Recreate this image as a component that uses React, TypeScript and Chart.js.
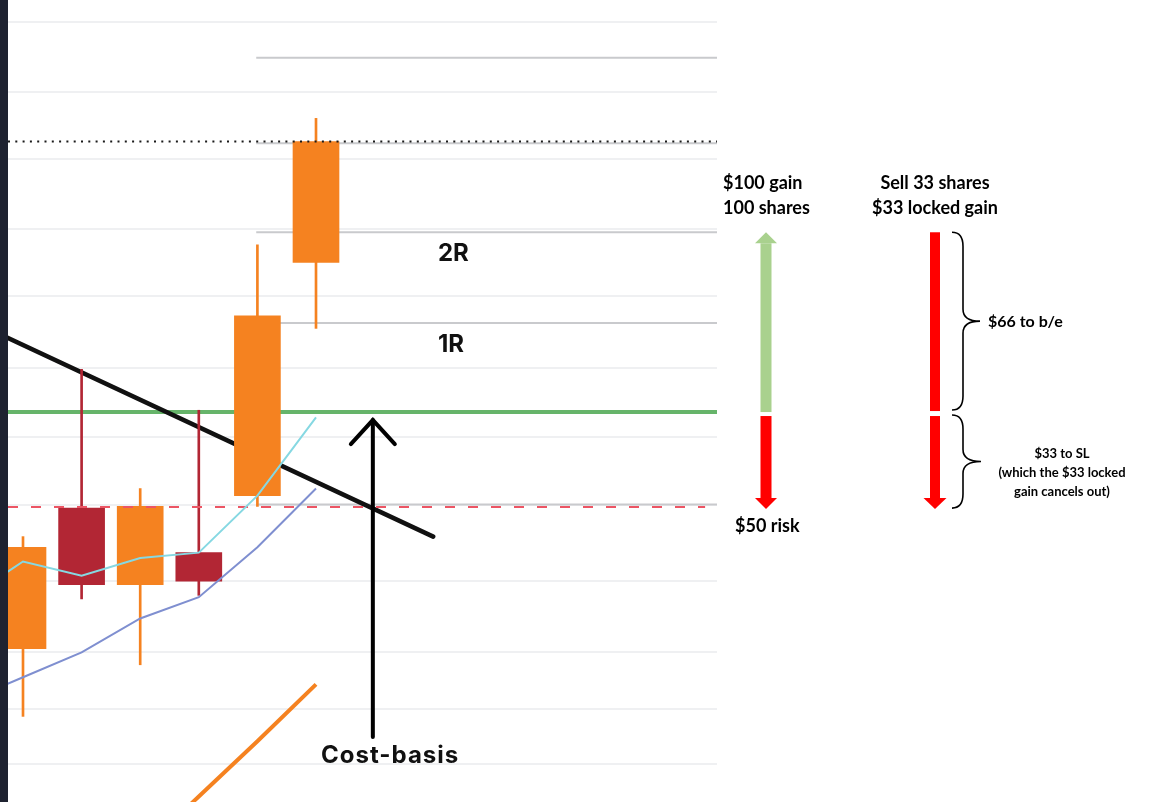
import { useEffect, useRef } from 'react';
import { Chart, registerables } from 'chart.js';

Chart.register(...registerables);

// ---- data ----
const candleIndex = [0, 1, 2, 3, 4, 5];
const opens = [8.67, 9.46, 9.03, 9.21, 9.53, 10.84];
const closes = [9.24, 9.03, 9.47, 9.05, 10.54, 11.52];
const highs = [9.3, 10.24, 9.57, 10.01, 10.94, 11.65];
const lows = [8.29, 8.95, 8.58, 8.97, 9.47, 10.47];

const maIndex = [-1, 0, 1, 2, 3, 4, 5];
const fastMA = [8.94, 9.16, 9.08, 9.18, 9.21, 9.53, 9.97];
const slowMA = [8.37, 8.51, 8.65, 8.84, 8.96, 9.24, 9.57];
const longMAIndex = [2, 3, 4, 5];
const longMA = [7.53, 7.84, 8.15, 8.47];

const trendIndex = [-1, 7];
const trendValues = [10.53, 9.3];

const gridValues = [12.19, 11.8, 11.42, 11.03, 10.65, 10.25, 9.86, 9.48, 9.05, 8.65, 8.33, 8.02];
const levelValues = [11.99, 11.51, 11.01, 10.5, 9.48];
const levelStartIndex = 3.98;
const rLabelTexts = ['2R', '1R'];
const rLabelValues = [11.01, 10.5];

const entryPrice = 10.0;
const stopPrice = 9.466;
const highMark = 11.52;
const stopLineEndIndex = 11.64;
const costArrowIndex = 5.97;

const xMin = -0.256;
const xMax = 11.843;
const yMin = 7.809;
const yMax = 12.315;

const ORANGE = '#f58220';
const RED = '#b22634';

const candleColors = candleIndex.map((_, i) => (closes[i] >= opens[i] ? ORANGE : RED));

function hLine(value: number, from: number, to: number) {
  return [
    { x: from, y: value },
    { x: to, y: value },
  ];
}

function drawVArrow(ctx: CanvasRenderingContext2D, cx: number, yFrom: number, yTip: number, shaftW: number, headW: number, headH: number, color: string) {
  ctx.save();
  ctx.fillStyle = color;
  const dir = yTip < yFrom ? -1 : 1;
  const headBase = yTip - dir * headH;
  ctx.fillRect(cx - shaftW / 2, Math.min(yFrom, headBase), shaftW, Math.abs(headBase - yFrom));
  ctx.beginPath();
  ctx.moveTo(cx - headW / 2, headBase);
  ctx.lineTo(cx + headW / 2, headBase);
  ctx.lineTo(cx, yTip);
  ctx.closePath();
  ctx.fill();
  ctx.restore();
}

function drawBrace(ctx: CanvasRenderingContext2D, x: number, y1: number, y2: number, tipX: number) {
  const mid = (y1 + y2) / 2;
  const vx = x + 11;
  ctx.save();
  ctx.strokeStyle = '#000';
  ctx.lineWidth = 1.6;
  ctx.beginPath();
  ctx.moveTo(x, y1);
  ctx.quadraticCurveTo(vx, y1, vx, y1 + 14);
  ctx.lineTo(vx, mid - 12);
  ctx.quadraticCurveTo(vx, mid, tipX, mid);
  ctx.quadraticCurveTo(vx, mid, vx, mid + 12);
  ctx.lineTo(vx, y2 - 14);
  ctx.quadraticCurveTo(vx, y2, x, y2);
  ctx.stroke();
  ctx.restore();
}

const annotationPlugin = {
  id: 'annotations',
  beforeDraw(chart: any) {
    const ctx = chart.ctx as CanvasRenderingContext2D;
    ctx.save();
    ctx.fillStyle = '#ffffff';
    ctx.fillRect(0, 0, chart.width, chart.height);
    ctx.restore();
  },
  afterDraw(chart: any) {
    const ctx = chart.ctx as CanvasRenderingContext2D;
    const xs = chart.scales.x;
    const ys = chart.scales.y;
    const area = chart.chartArea;

    // left dark bar
    ctx.save();
    ctx.fillStyle = '#1e2230';
    ctx.fillRect(0, 0, area.left, area.bottom);
    ctx.restore();

    // R labels
    ctx.save();
    ctx.fillStyle = '#111';
    ctx.font = 'bold 24px Inter, "Liberation Sans", sans-serif';
    ctx.textAlign = 'left';
    ctx.textBaseline = 'alphabetic';
    rLabelTexts.forEach((t, i) => {
      ctx.fillText(t, 438, ys.getPixelForValue(rLabelValues[i]) + 29);
    });
    ctx.restore();

    // cost-basis arrow
    const ax = xs.getPixelForValue(costArrowIndex);
    const aTop = ys.getPixelForValue(entryPrice) + 8;
    ctx.save();
    ctx.strokeStyle = '#000';
    ctx.lineWidth = 4;
    ctx.lineCap = 'round';
    ctx.lineJoin = 'miter';
    ctx.beginPath();
    ctx.moveTo(ax, 737);
    ctx.lineTo(ax, aTop);
    ctx.stroke();
    ctx.beginPath();
    ctx.moveTo(ax - 22, aTop + 24);
    ctx.lineTo(ax, aTop);
    ctx.lineTo(ax + 22, aTop + 24);
    ctx.stroke();
    ctx.fillStyle = '#111';
    ctx.font = 'bold 24px Inter, "Liberation Sans", sans-serif';
    (ctx as any).letterSpacing = '1px';
    ctx.textAlign = 'left';
    ctx.fillText('Cost-basis', 321, 763);
    ctx.restore();

    // right side annotations
    const yEntry = ys.getPixelForValue(entryPrice);
    const y2R = ys.getPixelForValue(rLabelValues[0]);
    const yStop = ys.getPixelForValue(stopPrice);

    drawVArrow(ctx, 766, yEntry, y2R, 11, 22, 11, '#a9d18e');
    drawVArrow(ctx, 766, yEntry + 4, yStop + 2, 11, 22, 11, '#ff0000');

    ctx.save();
    ctx.fillStyle = '#ff0000';
    ctx.fillRect(930, y2R, 10, yEntry - 1 - y2R);
    ctx.restore();
    drawVArrow(ctx, 935, yEntry + 4, yStop + 2, 10, 23, 11, '#ff0000');

    drawBrace(ctx, 952, y2R, yEntry - 2, 980);
    drawBrace(ctx, 952, yEntry + 3, yStop + 1, 981);

    ctx.save();
    ctx.fillStyle = '#000';
    ctx.textBaseline = 'alphabetic';
    ctx.font = 'bold 18px Lato, "Open Sans", sans-serif';
    ctx.textAlign = 'left';
    ctx.fillText('$100 gain', 723, 189);
    ctx.fillText('100 shares', 723, 214);
    ctx.fillText('$50 risk', 735, 532);
    ctx.textAlign = 'center';
    ctx.fillText('Sell 33 shares', 935, 189);
    ctx.fillText('$33 locked gain', 935, 214);
    ctx.font = 'bold 16px Lato, "Open Sans", sans-serif';
    ctx.textAlign = 'left';
    ctx.fillText('$66 to b/e', 988, 327);
    ctx.font = 'bold 13px Lato, "Open Sans", sans-serif';
    ctx.textAlign = 'center';
    ctx.fillText('$33 to SL', 1062, 458);
    ctx.fillText('(which the $33 locked', 1062, 477);
    ctx.fillText('gain cancels out)', 1062, 496);
    ctx.restore();
  },
};

export default function App() {
  const canvasRef = useRef<HTMLCanvasElement | null>(null);

  useEffect(() => {
    if (!canvasRef.current) return;
    const levelDatasets = levelValues.map((v) => ({
      type: 'line' as const,
      data: hLine(v, levelStartIndex, xMax),
      borderColor: '#c9cacd',
      borderWidth: 2,
      pointRadius: 0,
      order: 20,
      clip: 0,
    }));

    const chart = new Chart(canvasRef.current, {
      type: 'bar',
      data: {
        datasets: [
          ...levelDatasets,
          {
            type: 'line',
            data: hLine(entryPrice, xMin, xMax),
            borderColor: '#66b46a',
            borderWidth: 4,
            pointRadius: 0,
            order: 15,
            clip: 0,
          },
          {
            type: 'line',
            data: trendIndex.map((x, i) => ({ x, y: trendValues[i] })),
            borderColor: '#111111',
            borderWidth: 4.5,
            borderCapStyle: 'round',
            pointRadius: 0,
            order: 14,
            clip: 0,
          },
          {
            type: 'bar',
            data: candleIndex.map((x, i) => ({ x, y: [lows[i], highs[i]] })),
            backgroundColor: candleColors,
            borderWidth: 0,
            barThickness: 2,
            grouped: false,
            order: 12,
            clip: 0,
          },
          {
            type: 'bar',
            data: candleIndex.map((x, i) => ({ x, y: [opens[i], closes[i]] })),
            backgroundColor: candleColors,
            borderWidth: 0,
            barThickness: 46,
            grouped: false,
            order: 11,
            clip: 0,
          },
          {
            type: 'line',
            data: hLine(stopPrice, xMin, stopLineEndIndex),
            borderColor: '#ec5564',
            borderWidth: 2,
            borderDash: [10, 13],
            pointRadius: 0,
            order: 8,
            clip: 0,
          },
          {
            type: 'line',
            data: hLine(highMark, xMin, xMax),
            borderColor: '#1a1a1a',
            borderWidth: 2,
            borderDash: [2, 5.3],
            pointRadius: 0,
            order: 7,
            clip: 0,
          },
          {
            type: 'line',
            data: maIndex.map((x, i) => ({ x, y: slowMA[i] })),
            borderColor: '#7f8fd0',
            borderWidth: 2,
            pointRadius: 0,
            order: 4,
            clip: 0,
          },
          {
            type: 'line',
            data: maIndex.map((x, i) => ({ x, y: fastMA[i] })),
            borderColor: '#86d8e2',
            borderWidth: 2,
            pointRadius: 0,
            order: 3,
            clip: 0,
          },
          {
            type: 'line',
            data: longMAIndex.map((x, i) => ({ x, y: longMA[i] })),
            borderColor: ORANGE,
            borderWidth: 4,
            pointRadius: 0,
            order: 2,
            clip: 0,
          },
        ] as any,
      },
      options: {
        responsive: false,
        animation: false,
        devicePixelRatio: 1,
        layout: { padding: { left: 8, right: 453, top: 0, bottom: 10 } },
        plugins: {
          legend: { display: false },
          tooltip: { enabled: false },
        },
        events: [],
        scales: {
          x: {
            type: 'linear',
            display: false,
            min: xMin,
            max: xMax,
            offset: false,
          },
          y: {
            type: 'linear',
            min: yMin,
            max: yMax,
            beginAtZero: false,
            afterBuildTicks: (scale: any) => {
              scale.ticks = gridValues.map((v) => ({ value: v }));
            },
            ticks: { display: false },
            border: { display: false },
            grid: { color: '#eff0f2', lineWidth: 2, drawTicks: false },
          },
        },
      } as any,
      plugins: [annotationPlugin],
    });
    return () => chart.destroy();
  }, []);

  return (
    <div style={{ position: 'fixed', left: 0, top: 0, width: 1170, height: 812, background: '#fff' }}>
      <canvas ref={canvasRef} width={1170} height={812} style={{ display: 'block' }} />
    </div>
  );
}
